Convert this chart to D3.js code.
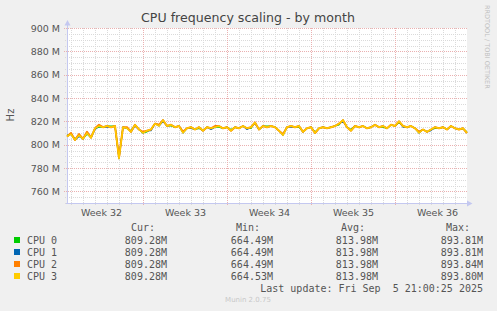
<!DOCTYPE html>
<html>
<head>
<meta charset="utf-8">
<script src="https://cdn.jsdelivr.net/npm/d3@7"></script>
<style>
  body { margin: 0; background: #f0f0f0; }
  svg { display: block; font-family: "DejaVu Sans", sans-serif; }
  .mono { font-family: "DejaVu Sans Mono", monospace; font-size: 10px; fill: #555; white-space: pre; }
</style>
</head>
<body>
<svg id="chart" width="497" height="311"></svg>
<script>
// series (values in MHz, one point every 8 hours)
const seriesNames = ['CPU 0', 'CPU 1', 'CPU 2', 'CPU 3'];
const seriesColors = ['#00cc00', '#0066b3', '#ff8000', '#ffcc00'];

const cpu0 = [808,809,805,808,805,809,806,814,815,815,816,816,816,789,815,814,812,817,813,810,
  811,813,818,817,821,816,816,815,816,811,814,815,813,814,812,815,814,815,815,814,
  815,813,815,814,816,814,814,819,813,816,816,816,815,812,809,815,816,815,815,811,
  814,815,811,814,815,814,815,816,817,821,815,813,816,815,816,814,815,817,815,815,
  814,817,816,819,816,815,816,814,811,813,811,813,814,814,815,813,816,814,813,814,811];
const cpu1 = [807,809,804,807,805,810,806,813,816,815,815,815,816,788,815,814,811,816,813,810,
  812,812,818,816,820,816,817,815,816,810,814,814,813,815,812,815,813,815,816,814,
  815,812,815,814,816,813,815,818,813,816,815,816,815,812,808,815,815,815,816,811,
  814,815,810,814,815,814,815,816,818,820,815,812,816,815,816,814,815,817,815,816,
  814,817,816,820,815,815,816,814,810,813,811,812,815,814,815,813,816,814,813,814,810];
const cpu2 = [807,810,804,809,805,811,806,814,817,815,816,815,816,789,815,815,811,817,813,811,
  812,813,818,817,821,816,817,815,816,811,814,815,813,815,812,815,814,816,816,814,
  815,812,815,814,816,814,815,819,813,816,815,816,815,812,809,815,816,815,816,811,
  814,815,810,814,815,814,815,816,818,821,815,812,816,815,816,814,815,817,815,816,
  814,817,816,820,816,815,816,814,811,813,811,813,815,814,815,813,816,814,813,814,810];
const cpu3 = [807,809,804,808,805,810,806,814,816,815,816,815,816,788,815,814,811,817,813,810,
  812,813,818,816,821,816,817,815,816,810,814,815,813,815,812,815,814,815,816,814,
  815,812,815,814,816,814,815,819,813,816,815,816,815,812,808,815,816,815,816,811,
  814,815,810,814,815,814,815,816,818,821,815,812,816,815,816,814,815,817,815,816,
  814,817,816,820,816,815,816,814,810,813,811,813,815,814,815,813,816,814,813,814,810];

const curVals = ['809.28M', '809.28M', '809.28M', '809.28M'];
const minVals = ['664.49M', '664.49M', '664.49M', '664.53M'];
const avgVals = ['813.98M', '813.98M', '813.98M', '813.98M'];
const maxVals = ['893.81M', '893.81M', '893.84M', '893.80M'];

const yTicks = [760, 780, 800, 820, 840, 860, 880, 900];
const weekLabels = ['Week 32', 'Week 33', 'Week 34', 'Week 35', 'Week 36'];

const startTime = new Date(Date.UTC(2025, 7, 4, 16));
const endTime = new Date(Date.UTC(2025, 8, 7));
const step = 8 * 3600 * 1000;
const times = cpu3.map((_, i) => new Date(startTime.getTime() + i * step));

const svg = d3.select('#chart');

const x = d3.scaleUtc().domain([startTime, endTime]).range([67, 467]);
const y = d3.scaleLinear().domain([750, 900]).range([203, 28]);

// plot background
svg.append('rect')
    .attr('x', 67).attr('y', 28)
    .attr('width', 400).attr('height', 175)
    .attr('fill', '#fff');

// minor grid
const grid = svg.append('g').attr('shape-rendering', 'crispEdges');
d3.range(750, 901, 5).filter(v => v % 20 !== 0).forEach(v => {
  grid.append('line')
      .attr('x1', 65).attr('x2', 467)
      .attr('y1', Math.round(y(v)) + 0.5).attr('y2', Math.round(y(v)) + 0.5)
      .attr('stroke', '#dadada').attr('stroke-dasharray', '1,1');
});
d3.utcDay.range(startTime, endTime).filter(d => d.getUTCDay() !== 1).forEach(d => {
  grid.append('line')
      .attr('x1', Math.round(x(d)) + 0.5).attr('x2', Math.round(x(d)) + 0.5)
      .attr('y1', 28).attr('y2', 205)
      .attr('stroke', '#dadada').attr('stroke-dasharray', '1,1');
});

// major grid
yTicks.forEach(v => {
  grid.append('line')
      .attr('x1', 64).attr('x2', 467)
      .attr('y1', Math.round(y(v)) + 0.5).attr('y2', Math.round(y(v)) + 0.5)
      .attr('stroke', '#eab0b0').attr('stroke-dasharray', '1,1');
});
d3.utcMonday.range(startTime, endTime).forEach(d => {
  grid.append('line')
      .attr('x1', Math.round(x(d)) + 0.5).attr('x2', Math.round(x(d)) + 0.5)
      .attr('y1', 28).attr('y2', 206)
      .attr('stroke', '#eab0b0').attr('stroke-dasharray', '1,1');
});

// axes lines with arrows
const axisColor = '#c4c8f0';
svg.append('line').attr('x1', 67.5).attr('x2', 67.5).attr('y1', 24).attr('y2', 204)
    .attr('stroke', axisColor);
svg.append('line').attr('x1', 66).attr('x2', 468).attr('y1', 203.5).attr('y2', 203.5)
    .attr('stroke', axisColor);
svg.append('path').attr('d', 'M64.5,25.5L70.5,25.5L67.5,20Z').attr('fill', axisColor);
svg.append('path').attr('d', 'M467,200.5L467,206.5L472.5,203.5Z').attr('fill', axisColor);

// series lines
const allSeries = [cpu0, cpu1, cpu2, cpu3];
const widths = [1.2, 1.2, 2.0, 1.5];
const line = d3.line().x((d, i) => x(times[i])).y(d => y(d));
allSeries.forEach((s, k) => {
  svg.append('path')
      .datum(s)
      .attr('fill', 'none')
      .attr('stroke', seriesColors[k])
      .attr('stroke-width', widths[k])
      .attr('stroke-linejoin', 'round')
      .attr('d', line);
});

// y axis labels
const yAxis = svg.append('g')
    .attr('transform', 'translate(67,0)')
    .call(d3.axisLeft(y).tickValues(yTicks).tickSize(0).tickPadding(7).tickFormat(d => d + ' M'));
yAxis.select('.domain').remove();
yAxis.selectAll('text').attr('font-size', 9.5).attr('fill', '#555').attr('font-family', 'DejaVu Sans');

// x axis labels (centered on mid-week)
const weekMids = d3.utcMonday.range(d3.utcMonday.floor(startTime), endTime)
    .map(d => new Date(d.getTime() + 3.5 * 864e5));
const xAxis = svg.append('g')
    .attr('transform', 'translate(0,203)')
    .call(d3.axisBottom(x).tickValues(weekMids).tickSize(0).tickPadding(6)
        .tickFormat((d, i) => weekLabels[i]));
xAxis.select('.domain').remove();
xAxis.selectAll('text').attr('font-size', 9.5).attr('fill', '#555').attr('font-family', 'DejaVu Sans');

// title and side texts
svg.append('text').attr('x', 248).attr('y', 22).attr('text-anchor', 'middle')
    .attr('font-size', 12.6).attr('fill', '#444')
    .text('CPU frequency scaling - by month');
svg.append('text').attr('transform', 'translate(14,115) rotate(-90)')
    .attr('text-anchor', 'middle').attr('font-size', 10).attr('fill', '#555')
    .text('Hz');
svg.append('text').attr('transform', 'translate(485,5) rotate(90)')
    .attr('font-size', 6.5).attr('fill', '#c0c0c0')
    .text('RRDTOOL / TOBI OETIKER');

// legend
const headers = [['Cur:', 143], ['Min:', 248], ['Avg:', 353], ['Max:', 458]];
headers.forEach(([t, cx]) => {
  svg.append('text').attr('class', 'mono').attr('x', cx).attr('y', 231)
      .attr('text-anchor', 'middle').text(t);
});
const columns = [[curVals, 167], [minVals, 273], [avgVals, 378], [maxVals, 483]];
seriesNames.forEach((name, i) => {
  const rowY = 244 + i * 12;
  svg.append('rect').attr('x', 14).attr('y', rowY - 7).attr('width', 6).attr('height', 6)
      .attr('fill', seriesColors[i]);
  svg.append('text').attr('class', 'mono').attr('x', 27).attr('y', rowY).text(name);
  columns.forEach(([vals, rx]) => {
    svg.append('text').attr('class', 'mono').attr('x', rx).attr('y', rowY)
        .attr('text-anchor', 'end').text(vals[i]);
  });
});
svg.append('text').attr('class', 'mono').attr('x', 483).attr('y', 292)
    .attr('text-anchor', 'end').text('Last update: Fri Sep  5 21:00:25 2025');
svg.append('text').attr('x', 248).attr('y', 302).attr('text-anchor', 'middle')
    .attr('font-size', 7).attr('fill', '#c8c8c8')
    .text('Munin 2.0.75');
</script>
</body>
</html>
